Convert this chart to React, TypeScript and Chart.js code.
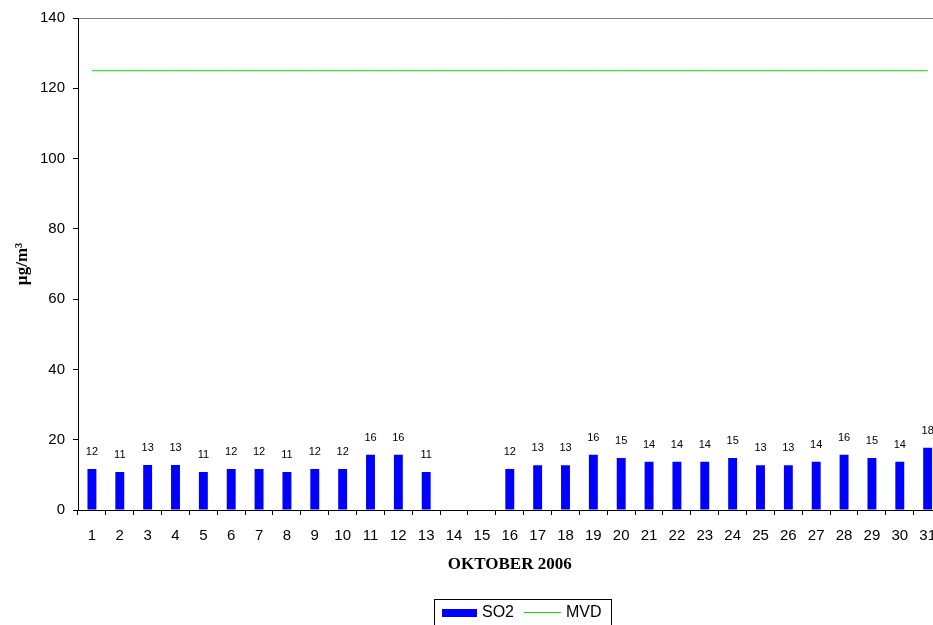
import React, { useEffect, useRef } from "react";
import { Chart, registerables } from "chart.js";

Chart.register(...registerables);

const days = [
  "1", "2", "3", "4", "5", "6", "7", "8", "9", "10",
  "11", "12", "13", "14", "15", "16", "17", "18", "19", "20",
  "21", "22", "23", "24", "25", "26", "27", "28", "29", "30", "31",
];

const so2: (number | null)[] = [
  11.7, 10.8, 12.8, 12.8, 10.8, 11.7, 11.7, 10.8, 11.7, 11.7,
  15.7, 15.7, 10.8, null, null, 11.7, 12.7, 12.7, 15.7, 14.8,
  13.7, 13.7, 13.7, 14.8, 12.7, 12.7, 13.7, 15.7, 14.8, 13.7, 17.7,
];

const mvd = [
  125, 125, 125, 125, 125, 125, 125, 125, 125, 125,
  125, 125, 125, 125, 125, 125, 125, 125, 125, 125,
  125, 125, 125, 125, 125, 125, 125, 125, 125, 125, 125,
];

const yMin = 0;
const yMax = 140;
const yStep = 20;

const xTitle = "OKTOBER 2006";
const yTitle = "µg/m³";

const SANS = '"Liberation Sans", Arial, sans-serif';
const SERIF = '"Liberation Serif", "Times New Roman", serif';

const valueLabels = {
  id: "valueLabels",
  afterDatasetsDraw(chart: any) {
    const ctx = chart.ctx;
    const meta = chart.getDatasetMeta(0);
    const data = chart.data.datasets[0].data;
    ctx.save();
    ctx.font = `11px ${SANS}`;
    ctx.fillStyle = "#000";
    ctx.textAlign = "center";
    ctx.textBaseline = "middle";
    meta.data.forEach((el: any, i: number) => {
      const v = data[i];
      if (v === null || v === undefined) return;
      ctx.fillText(String(Math.round(v)), el.x, el.y - 17);
    });
    ctx.restore();
  },
};

const boxLegend = {
  id: "boxLegend",
  afterDraw(chart: any) {
    const ctx = chart.ctx;
    const ds = chart.data.datasets;
    ctx.save();
    ctx.strokeStyle = "#000";
    ctx.lineWidth = 1;
    ctx.strokeRect(434.5, 599.5, 177, 40);
    ctx.font = `16px ${SANS}`;
    ctx.textBaseline = "middle";
    ctx.textAlign = "left";
    ctx.fillStyle = ds[0].backgroundColor;
    ctx.fillRect(442, 609, 35, 8);
    ctx.fillStyle = "#000";
    ctx.fillText(ds[0].label, 482, 613);
    ctx.strokeStyle = ds[1].borderColor;
    ctx.beginPath();
    ctx.moveTo(524, 612.5);
    ctx.lineTo(561, 612.5);
    ctx.stroke();
    ctx.fillStyle = "#000";
    ctx.fillText(ds[1].label, 566, 613);
    ctx.restore();
  },
};

export default function App() {
  const ref = useRef<HTMLCanvasElement>(null);

  useEffect(() => {
    if (!ref.current) return;
    const chart = new Chart(ref.current, {
      type: "bar",
      data: {
        labels: days,
        datasets: [
          {
            type: "bar",
            label: "SO2",
            data: so2,
            backgroundColor: "#0000FF",
            borderWidth: 0,
            categoryPercentage: 1,
            barPercentage: 0.32,
            order: 2,
          },
          {
            type: "line",
            label: "MVD",
            data: mvd,
            borderColor: "#00E000",
            borderWidth: 1,
            pointRadius: 0,
            fill: false,
            order: 1,
          } as any,
        ],
      },
      options: {
        responsive: false,
        animation: false,
        layout: { padding: { top: 18, right: 1, left: 0, bottom: 0 } },
        plugins: {
          legend: { display: false },
          tooltip: { enabled: false },
        },
        scales: {
          x: {
            offset: true,
            grid: {
              offset: true,
              drawOnChartArea: false,
              drawTicks: true,
              tickLength: 5,
              color: "#000",
              tickColor: "#000",
            },
            border: { display: true, color: "#000", width: 1 },
            ticks: {
              color: "#000",
              font: { family: SANS, size: 15 },
              padding: 12,
              maxRotation: 0,
              autoSkip: false,
            },
            title: {
              display: true,
              text: xTitle,
              color: "#000",
              font: { family: SERIF, size: 17, weight: "bold" },
              padding: { top: 0, bottom: 50 },
            },
            afterFit(scale: any) {
              scale.height = 115;
            },
          },
          y: {
            min: yMin,
            max: yMax,
            ticks: {
              stepSize: yStep,
              color: "#000",
              font: { family: SANS, size: 15 },
              padding: 8,
            },
            grid: {
              drawOnChartArea: true,
              drawTicks: true,
              tickLength: 5,
              color: (c: any) => (c.tick && c.tick.value === yMax ? "#808080" : "rgba(0,0,0,0)"),
              tickColor: "#000",
            },
            border: { display: true, color: "#000", width: 1 },
            title: {
              display: true,
              text: yTitle,
              color: "#000",
              font: { family: SERIF, size: 17, weight: "bold" },
              padding: { top: 12, bottom: 0 },
            },
            afterFit(scale: any) {
              scale.width = 78;
            },
          },
        },
      },
      plugins: [valueLabels, boxLegend],
    });
    return () => chart.destroy();
  }, []);

  return (
    <div
      style={{
        position: "fixed",
        left: 0,
        top: 0,
        width: 933,
        height: 625,
        overflow: "hidden",
        background: "#fff",
      }}
    >
      <canvas ref={ref} width={948} height={625} style={{ display: "block" }} />
    </div>
  );
}
